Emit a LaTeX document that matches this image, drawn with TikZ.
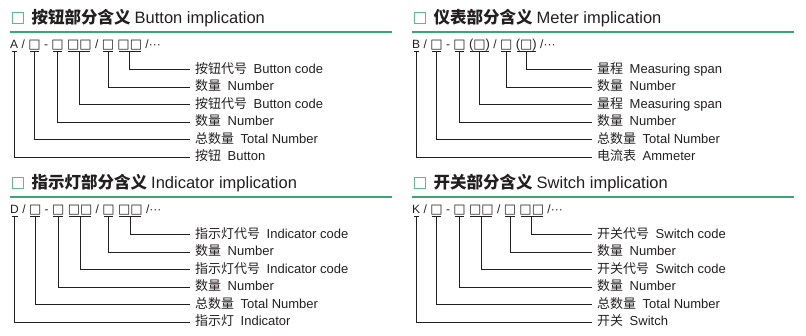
\documentclass[tikz,border=0pt]{standalone}
\usepackage{fontspec}
\setmainfont{Liberation Sans}
\newfontfamily\cjk{Noto Sans CJK SC}
\newfontfamily\dejavu{DejaVu Sans}
\usetikzlibrary{positioning}
\definecolor{RuleGreen}{RGB}{62,164,116}
\definecolor{MarkGreen}{RGB}{96,186,140}
\definecolor{Ink}{RGB}{35,31,32}

\begin{document}
\begin{tikzpicture}[
            x=1pt, y=-1pt,
            node distance=3pt,
            every node/.style={text=Ink},
            marker/.style={draw=MarkGreen, line width=1pt, minimum size=11pt, inner sep=0pt},
            heading/.style={anchor=west, inner sep=0pt, font=\fontsize{16.5}{18}\selectfont},
            rule/.style={draw=RuleGreen, line width=1.1pt},
            codepart/.style={
                inner xsep=0pt,
                inner ysep=2pt,
                text height=9pt,
                text depth=1pt,
                font=\fontsize{12}{14}\selectfont
            },
            field/.style={codepart, font=\dejavu\fontsize{13}{14}\selectfont},
            meaning/.style={
                anchor=west,
                inner xsep=5pt,
                inner ysep=0pt,
                text height=10pt,
                text depth=3pt,
                font=\fontsize{13}{15}\selectfont
            },
            tickbar/.style={draw=Ink, line width=0.8pt, shorten <=1.5pt, shorten >=1.5pt},
            leader/.style={draw=Ink, line width=0.8pt}
        ]
            \useasboundingbox (0,0) rectangle (806,335);

            \begin{scope}
                \node[marker] (amark) at (17.5,18) {};
                \node[heading, right=8pt of amark] (atitle) {{\cjk\bfseries 按钮部分含义}\hspace{4pt}Button implication};
                \draw[rule] (10,32) -- (392,32);
                \node[codepart, anchor=west] (a0) at (10,44.5) {A};
                \node[codepart, right=of a0] (asl1) {/};
                \node[field, right=of asl1] (a1) {□};
                \node[codepart, right=of a1] (adash) {-};
                \node[field, right=of adash] (a2) {□};
                \node[field, right=of a2] (a3) {□□};
                \node[codepart, right=of a3] (asl2) {/};
                \node[field, right=of asl2] (a4) {□};
                \node[field, right=of a4] (a5) {□□};
                \node[codepart, right=of a5] (arest) {/···};
                \foreach \f/\c/\e [count=\i from 0] in {a5/按钮代号/Button code, a4/数量/Number, a3/按钮代号/Button code, a2/数量/Number, a1/总数量/Total Number, a0/按钮/Button} {
                    \node[meaning] (m\f) at (190,{69.5+17.5*\i}) {{\cjk \c}\hspace{6.5pt}\e};
                    \draw[tickbar] (\f.south west) -- (\f.south east);
                    \draw[leader] (\f.south) |- (m\f.west);
                }
            \end{scope}

            \begin{scope}[shift={(402,0)}]
                \node[marker] (bmark) at (17.5,18) {};
                \node[heading, right=8pt of bmark] (btitle) {{\cjk\bfseries 仪表部分含义}\hspace{4pt}Meter implication};
                \draw[rule] (10,32) -- (392,32);
                \node[codepart, anchor=west] (b0) at (10,44.5) {B};
                \node[codepart, right=of b0] (bsl1) {/};
                \node[field, right=of bsl1] (b1) {□};
                \node[codepart, right=of b1] (bdash) {-};
                \node[field, right=of bdash] (b2) {□};
                \node[field, right=of b2] (b3) {{\normalfont(}□{\normalfont)}};
                \node[codepart, right=of b3] (bsl2) {/};
                \node[field, right=of bsl2] (b4) {□};
                \node[field, right=of b4] (b5) {{\normalfont(}□{\normalfont)}};
                \node[codepart, right=of b5] (brest) {/···};
                \foreach \f/\c/\e [count=\i from 0] in {b5/量程/Measuring span, b4/数量/Number, b3/量程/Measuring span, b2/数量/Number, b1/总数量/Total Number, b0/电流表/Ammeter} {
                    \node[meaning] (m\f) at (190,{69.5+17.5*\i}) {{\cjk \c}\hspace{6.5pt}\e};
                    \draw[tickbar] (\f.south west) -- (\f.south east);
                    \draw[leader] (\f.south) |- (m\f.west);
                }
            \end{scope}

            \begin{scope}[shift={(0,165)}]
                \node[marker] (dmark) at (17.5,18) {};
                \node[heading, right=8pt of dmark] (dtitle) {{\cjk\bfseries 指示灯部分含义}\hspace{4pt}Indicator implication};
                \draw[rule] (10,32) -- (392,32);
                \node[codepart, anchor=west] (d0) at (10,44.5) {D};
                \node[codepart, right=of d0] (dsl1) {/};
                \node[field, right=of dsl1] (d1) {□};
                \node[codepart, right=of d1] (ddash) {-};
                \node[field, right=of ddash] (d2) {□};
                \node[field, right=of d2] (d3) {□□};
                \node[codepart, right=of d3] (dsl2) {/};
                \node[field, right=of dsl2] (d4) {□};
                \node[field, right=of d4] (d5) {□□};
                \node[codepart, right=of d5] (drest) {/···};
                \foreach \f/\c/\e [count=\i from 0] in {d5/指示灯代号/Indicator code, d4/数量/Number, d3/指示灯代号/Indicator code, d2/数量/Number, d1/总数量/Total Number, d0/指示灯/Indicator} {
                    \node[meaning] (m\f) at (190,{69.5+17.5*\i}) {{\cjk \c}\hspace{6.5pt}\e};
                    \draw[tickbar] (\f.south west) -- (\f.south east);
                    \draw[leader] (\f.south) |- (m\f.west);
                }
            \end{scope}

            \begin{scope}[shift={(402,165)}]
                \node[marker] (kmark) at (17.5,18) {};
                \node[heading, right=8pt of kmark] (ktitle) {{\cjk\bfseries 开关部分含义}\hspace{4pt}Switch implication};
                \draw[rule] (10,32) -- (392,32);
                \node[codepart, anchor=west] (k0) at (10,44.5) {K};
                \node[codepart, right=of k0] (ksl1) {/};
                \node[field, right=of ksl1] (k1) {□};
                \node[codepart, right=of k1] (kdash) {-};
                \node[field, right=of kdash] (k2) {□};
                \node[field, right=of k2] (k3) {□□};
                \node[codepart, right=of k3] (ksl2) {/};
                \node[field, right=of ksl2] (k4) {□};
                \node[field, right=of k4] (k5) {□□};
                \node[codepart, right=of k5] (krest) {/···};
                \foreach \f/\c/\e [count=\i from 0] in {k5/开关代号/Switch code, k4/数量/Number, k3/开关代号/Switch code, k2/数量/Number, k1/总数量/Total Number, k0/开关/Switch} {
                    \node[meaning] (m\f) at (190,{69.5+17.5*\i}) {{\cjk \c}\hspace{6.5pt}\e};
                    \draw[tickbar] (\f.south west) -- (\f.south east);
                    \draw[leader] (\f.south) |- (m\f.west);
                }
            \end{scope}
        \end{tikzpicture}
\end{document}
